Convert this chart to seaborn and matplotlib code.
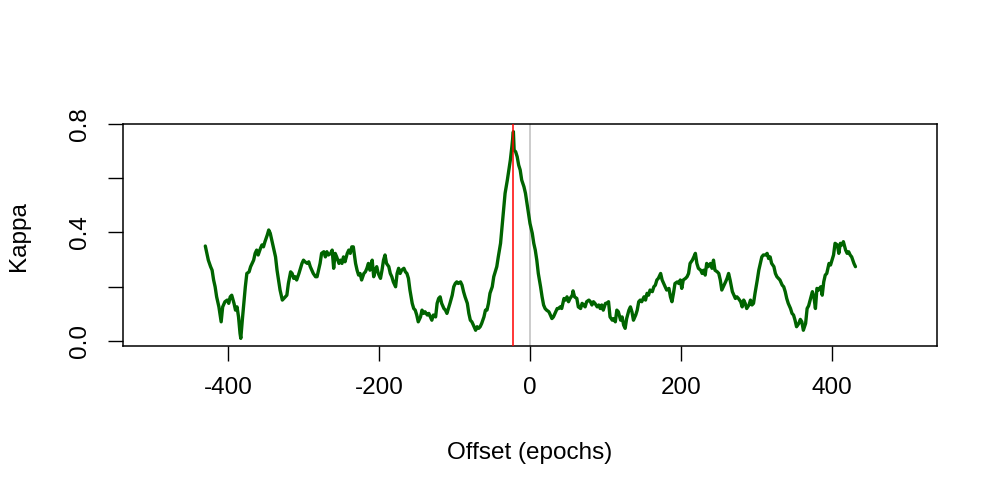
import numpy as np
import pandas as pd
import matplotlib
matplotlib.use("Agg")
import matplotlib.pyplot as plt
import seaborn as sns

# values
offset = [
    -430, -428, -426, -423, -421, -419, -417, -415, -412, -410, -409, -407, -404, -401,
    -399, -397, -395, -392, -390, -388, -386, -384, -383, -381, -379, -377, -375, -372,
    -370, -368, -366, -364, -362, -360, -357, -355, -353, -351, -348, -346, -344, -342,
    -340, -337, -335, -333, -331, -328, -326, -324, -322, -320, -317, -315, -313, -311,
    -309, -306, -304, -302, -300, -298, -295, -293, -291, -289, -287, -284, -282, -280,
    -278, -276, -273, -271, -269, -267, -264, -262, -260, -258, -256, -253, -251, -249,
    -247, -245, -242, -240, -238, -236, -234, -231, -229, -227, -225, -223, -220, -218,
    -216, -214, -212, -209, -207, -205, -203, -201, -198, -196, -194, -192, -190, -187,
    -185, -183, -181, -178, -176, -174, -172, -170, -167, -165, -163, -161, -159, -156,
    -154, -152, -150, -148, -145, -143, -141, -139, -136, -134, -132, -130, -128, -125,
    -123, -121, -119, -117, -114, -112, -110, -108, -106, -103, -101, -99, -97, -95,
    -92, -90, -88, -86, -83, -81, -79, -77, -75, -72, -70, -68, -66, -64,
    -61, -59, -57, -55, -53, -50, -48, -46, -44, -42, -39, -37, -35, -33,
    -30, -28, -26, -24, -22, -21, -19, -17, -15, -13, -11, -8, -6, -4,
    -2, 0, 3, 5, 7, 9, 11, 14, 16, 18, 20, 22, 25, 27,
    29, 31, 34, 36, 38, 40, 42, 45, 47, 49, 51, 53, 56, 57,
    59, 62, 64, 67, 69, 71, 73, 75, 78, 80, 82, 84, 86, 89,
    91, 93, 95, 97, 100, 102, 104, 106, 109, 111, 113, 115, 117, 120,
    122, 124, 126, 128, 131, 133, 135, 137, 140, 142, 144, 146, 148, 151,
    153, 155, 157, 159, 162, 164, 166, 168, 170, 173, 175, 177, 179, 181,
    184, 186, 188, 190, 192, 195, 197, 199, 201, 203, 206, 208, 210, 212,
    215, 217, 219, 221, 223, 226, 228, 230, 232, 234, 236, 239, 241, 243,
    245, 248, 250, 252, 254, 256, 259, 261, 263, 265, 268, 270, 272, 274,
    276, 279, 281, 283, 285, 287, 290, 292, 294, 296, 298, 301, 303, 305,
    307, 309, 312, 314, 316, 318, 320, 323, 325, 327, 329, 331, 334, 336,
    338, 340, 342, 345, 347, 349, 351, 353, 356, 358, 360, 362, 365, 367,
    369, 371, 374, 376, 378, 380, 382, 385, 387, 389, 391, 393, 396, 398,
    400, 402, 404, 407, 409, 411, 413, 415, 418, 420, 422, 424, 426, 429,
    431,
]
kappa = [
    .350, .323, .298, .274, .261, .225, .200, .163, .126, .090, .071, .126, .145, .151,
    .139, .163, .169, .139, .114, .126, .089, .028, .010, .077, .139, .200, .249, .255,
    .274, .286, .298, .323, .335, .317, .341, .354, .347, .366, .390, .409, .397, .372,
    .347, .310, .261, .225, .188, .151, .157, .163, .169, .212, .255, .249, .231, .237,
    .225, .249, .268, .286, .298, .292, .286, .292, .274, .261, .249, .237, .237, .261,
    .286, .323, .329, .310, .329, .317, .323, .335, .268, .323, .310, .286, .298, .286,
    .310, .292, .323, .335, .323, .347, .347, .286, .261, .243, .249, .225, .249, .255,
    .268, .286, .261, .298, .237, .261, .274, .249, .231, .261, .298, .317, .286, .274,
    .249, .237, .218, .200, .249, .268, .249, .261, .268, .255, .249, .231, .188, .139,
    .120, .114, .096, .071, .089, .114, .102, .108, .096, .102, .089, .077, .096, .089,
    .139, .157, .163, .139, .120, .114, .102, .120, .139, .169, .200, .212, .218, .212,
    .218, .206, .182, .163, .139, .102, .077, .071, .059, .040, .053, .047, .053, .065,
    .089, .114, .114, .139, .176, .200, .237, .255, .274, .310, .360, .421, .482, .544,
    .593, .630, .667, .716, .771, .703, .697, .679, .648, .630, .593, .568, .544, .507,
    .470, .433, .397, .360, .335, .298, .249, .200, .163, .133, .120, .114, .108, .096,
    .083, .089, .108, .120, .120, .126, .120, .157, .151, .163, .145, .157, .169, .185,
    .163, .157, .126, .120, .139, .133, .126, .145, .151, .145, .133, .145, .139, .126,
    .133, .120, .133, .114, .139, .139, .145, .089, .077, .083, .071, .114, .108, .077,
    .089, .059, .047, .083, .114, .126, .108, .077, .096, .114, .145, .151, .145, .163,
    .151, .176, .169, .188, .182, .200, .206, .225, .231, .249, .225, .212, .200, .188,
    .194, .163, .145, .176, .212, .218, .212, .225, .194, .225, .231, .237, .249, .286,
    .298, .310, .323, .286, .268, .261, .249, .261, .243, .286, .274, .286, .268, .298,
    .261, .255, .249, .225, .188, .200, .218, .231, .249, .225, .182, .169, .157, .163,
    .157, .145, .126, .151, .139, .120, .133, .151, .133, .139, .176, .225, .261, .286,
    .310, .317, .317, .323, .304, .310, .286, .274, .249, .237, .231, .225, .206, .200,
    .182, .157, .139, .120, .102, .096, .077, .053, .065, .080, .071, .040, .065, .120,
    .130, .151, .182, .163, .120, .194, .188, .200, .169, .218, .243, .249, .286, .280,
    .298, .317, .360, .354, .323, .360, .354, .366, .335, .323, .329, .317, .310, .286,
    .274,
]

best_offset = -22   # red marker
zero_offset = 0     # grey reference
x_ticks = [-400, -200, 0, 200, 400]
y_ticks = [0.0, 0.2, 0.4, 0.6, 0.8]
y_ticklabels = ["0.0", "", "0.4", "", "0.8"]

df = pd.DataFrame({"offset": offset, "kappa": kappa})

sns.set_theme(style="ticks")
plt.rcParams["font.family"] = ["Liberation Sans", "DejaVu Sans"]
plt.rcParams["text.color"] = "black"

fig = plt.figure(figsize=(10, 5), dpi=100)
ax = fig.add_axes([0.123, 0.308, 0.814, 0.445])

ax.axvline(zero_offset, color="#BEBEBE", lw=1.1, zorder=1)
sns.lineplot(data=df, x="offset", y="kappa", color="#006400", linewidth=2.4,
             estimator=None, sort=False, ax=ax, zorder=2)
ax.axvline(best_offset, color="#FF0000", lw=1.1, zorder=3)

ax.set_xlim(-539, 539)
ax.set_ylim(-0.018, 0.801)
ax.set_xticks(x_ticks)
ax.set_xticklabels([str(t) for t in x_ticks])
ax.set_yticks(y_ticks)
ax.set_yticklabels(y_ticklabels, rotation=90, va="center")
ax.set_xlabel("")
ax.set_ylabel("")

for s in ax.spines.values():
    s.set_visible(True)
    s.set_color("black")
    s.set_linewidth(1.1)
ax.tick_params(axis="both", length=11, width=1.0, color="black",
               labelsize=17.5, labelcolor="black")
ax.tick_params(axis="x", pad=11.5)
ax.tick_params(axis="y", pad=12)

fig.text(0.530, 1 - 453 / 500, "Offset (epochs)", ha="center", va="center",
         fontsize=17.5, color="black")
fig.text(0.019, 1 - 236 / 500, "Kappa", ha="center", va="center", rotation=90,
         fontsize=17.5, color="black")

fig.savefig("out.png", dpi=100, facecolor="white")
